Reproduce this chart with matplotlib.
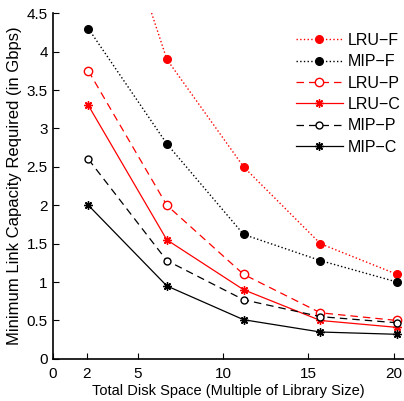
import numpy as np
import matplotlib
matplotlib.use("Agg")
import matplotlib.pyplot as plt

plt.rcParams["font.family"] = ["Liberation Sans", "DejaVu Sans"]

disk = [2.1, 6.7, 11.2, 15.7, 20.2]
lru_f = [7.0, 3.9, 2.5, 1.5, 1.1]
mip_f = [4.3, 2.8, 1.62, 1.28, 1.0]
lru_p = [3.75, 2.0, 1.1, 0.6, 0.5]
lru_c = [3.3, 1.55, 0.9, 0.5, 0.41]
mip_p = [2.6, 1.28, 0.77, 0.55, 0.47]
mip_c = [2.0, 0.95, 0.51, 0.35, 0.32]

xticks = [0, 2, 5, 10, 15, 20]
yticks = [0, 0.5, 1, 1.5, 2, 2.5, 3, 3.5, 4, 4.5]

ast = (8, 2, 0)  # matlab style asterisk

fig = plt.figure(figsize=(4.04, 4.01), dpi=100)
ax = fig.add_axes([0.130, 0.105, 0.870, 0.862])

ax.plot(disk, lru_f, ":", color="red", marker="o", ms=5.5, lw=1.0, label="LRU\u2212F")
ax.plot(disk, mip_f, ":", color="black", marker="o", ms=5.5, lw=1.0, label="MIP\u2212F")
ax.plot(disk, lru_p, "--", color="red", marker="o", mfc="white", ms=6, lw=0.9,
        dashes=(6, 4), label="LRU\u2212P")
ax.plot(disk, lru_c, "-", color="red", marker=ast, ms=6, lw=0.9, label="LRU\u2212C")
ax.plot(disk, mip_p, "--", color="black", marker="o", mfc="white", ms=5, lw=0.9,
        dashes=(6, 4), label="MIP\u2212P")
ax.plot(disk, mip_c, "-", color="black", marker=ast, ms=6, lw=0.9, label="MIP\u2212C")

ax.set_xlim(0, 20.6)
ax.set_ylim(0, 4.5)
ax.set_xticks(xticks)
ax.set_yticks(yticks)
ax.set_yticklabels(["0", "0.5", "1", "1.5", "2", "2.5", "3", "3.5", "4", "4.5"])
ax.tick_params(direction="in", length=4, labelsize=11, width=0.8)
ax.tick_params(axis="x", pad=6)
ax.spines["top"].set_visible(False)
ax.spines["right"].set_visible(False)
for s in ("left", "bottom"):
    ax.spines[s].set_linewidth(1.2)

ax.set_xlabel("Total Disk Space (Multiple of Library Size)", fontsize=10.5, labelpad=2)
ax.set_ylabel("Minimum Link Capacity Required (in Gbps)", fontsize=12, labelpad=3)

ax.legend(loc="upper right", frameon=False, fontsize=11.5, handlelength=2.9,
          handletextpad=0.3, labelspacing=0.4, bbox_to_anchor=(1.03, 0.985))

fig.savefig("out.png", dpi=100)
